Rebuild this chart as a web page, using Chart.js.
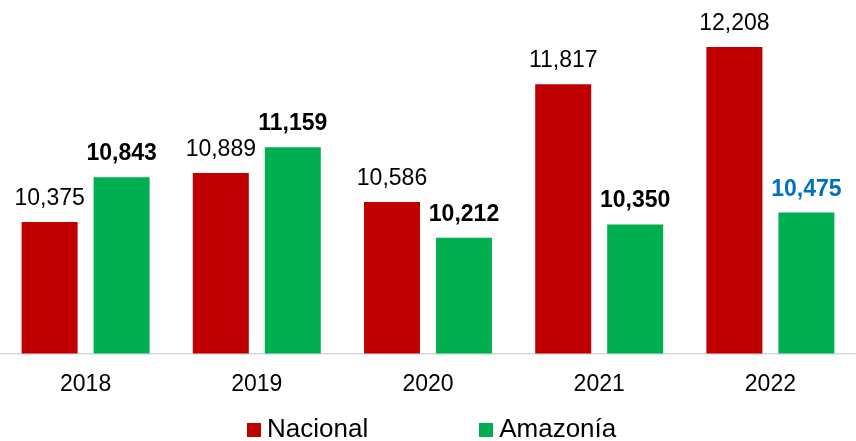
<!DOCTYPE html>
<html>
<head>
<meta charset="utf-8">
<script src="https://cdn.jsdelivr.net/npm/chart.js@4"></script>
<style>
  body { margin: 0; background: #fff; }
  #wrap { position: relative; width: 856px; height: 441px; }
  #legend {
    position: absolute; left: 247px; top: 415px; display: flex;
    font: 26px "Liberation Sans", Arial, sans-serif; color: #000; line-height: 26px;
  }
  .item { display: flex; align-items: center; }
  .item + .item { margin-left: 111px; }
  .sw { width: 14px; height: 14px; margin-right: 6px; margin-top: 3px; }
</style>
</head>
<body>
<div id="wrap">
  <canvas id="bars" width="856" height="441"></canvas>
  <div id="legend"></div>
</div>
<script>
const years = ['2018', '2019', '2020', '2021', '2022'];
const nacional = [10375, 10889, 10586, 11817, 12208];
const amazonia = [10843, 11159, 10212, 10350, 10475];
const seriesNames = ['Nacional', 'Amazonía'];

const colors = ['#C00000', '#00B050'];
const labelBold = [false, true];
const labelColors = [
  ['#000', '#000', '#000', '#000', '#000'],
  ['#000', '#000', '#000', '#000', '#0070C0']
];
const FONT = '"Liberation Sans", Arial, sans-serif';

// value labels above each bar
const valueLabels = {
  id: 'valueLabels',
  afterDatasetsDraw(chart) {
    const ctx = chart.ctx;
    chart.data.datasets.forEach((ds, i) => {
      chart.getDatasetMeta(i).data.forEach((bar, j) => {
        ctx.save();
        ctx.font = (labelBold[i] ? 'bold ' : '') + '23px ' + FONT;
        ctx.fillStyle = labelColors[i][j];
        ctx.textAlign = 'center';
        ctx.textBaseline = 'alphabetic';
        ctx.fillText(ds.data[j].toLocaleString('en-US'), bar.x, bar.y - 17);
        ctx.restore();
      });
    });
  }
};

const el = document.getElementById('bars');

new Chart(el, {
  type: 'bar',
  data: {
    labels: years,
    datasets: [
      { label: seriesNames[0], data: nacional, backgroundColor: colors[0] },
      { label: seriesNames[1], data: amazonia, backgroundColor: colors[1] }
    ]
  },
  options: {
    responsive: false,
    animation: false,
    devicePixelRatio: 1,
    categoryPercentage: 0.841,
    barPercentage: 0.778,
    layout: { padding: { left: 0, right: 0, top: 0, bottom: 34 } },
    scales: {
      x: {
        grid: { display: false },
        border: { display: true, color: '#d9d9d9', width: 1.5 },
        ticks: { color: '#000', padding: 9, font: { family: FONT, size: 23 } }
      },
      y: {
        display: false,
        min: 9000,
        max: 12700
      }
    },
    plugins: {
      legend: { display: false },
      tooltip: { enabled: false }
    }
  },
  plugins: [valueLabels]
});

// legend
const legend = document.getElementById('legend');
seriesNames.forEach((name, i) => {
  const item = document.createElement('div');
  item.className = 'item';
  item.innerHTML = '<span class="sw" style="background:' + colors[i] + '"></span><span>' + name + '</span>';
  legend.appendChild(item);
});
</script>
</body>
</html>
